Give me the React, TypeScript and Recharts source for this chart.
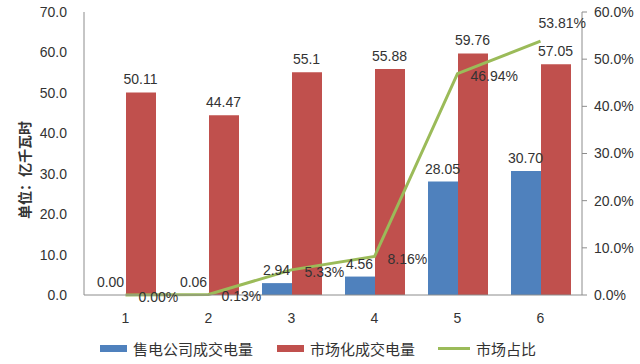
import React from 'react';
import {
  ComposedChart,
  Bar,
  Line,
  XAxis,
  YAxis,
  LabelList,
} from 'recharts';

const categories = ['1', '2', '3', '4', '5', '6'];
const companyVolume = [0.0, 0.06, 2.94, 4.56, 28.05, 30.7];
const companyLabels = ['0.00', '0.06', '2.94', '4.56', '28.05', '30.70'];
const marketVolume = [50.11, 44.47, 55.1, 55.88, 59.76, 57.05];
const marketLabels = ['50.11', '44.47', '55.1', '55.88', '59.76', '57.05'];
const marketShare = [0.0, 0.13, 5.33, 8.16, 46.94, 53.81];
const leftTicks = [0, 10, 20, 30, 40, 50, 60, 70];
const rightTicks = [0, 10, 20, 30, 40, 50, 60];

const BLUE = '#4F81BD';
const RED = '#C0504D';
const GREEN = '#9BBB59';
const TEXT = '#333333';
const AXIS = '#8c8c8c';
const FONT = '"Liberation Sans", "Noto Sans CJK SC", sans-serif';
const FS = 14;
const BAR = 30;

const data = categories.map((c, i) => ({
  name: c,
  company: companyVolume[i],
  market: marketVolume[i],
  share: marketShare[i],
}));

// value label above a bar; dx shifts from the category centre to the bar centre
// (drawn from a hidden line so zero-height bars still get their label)
const barLabel = (labels: string[], dx: number) => (props: any) => {
  const { x, y, index } = props;
  return (
    <text
      x={x + dx}
      y={y - 8}
      textAnchor="middle"
      fontSize={FS}
      fill={TEXT}
      fontFamily={FONT}
    >
      {labels[index]}
    </text>
  );
};

const shareLabel = (props: any) => {
  const { x, y, index, value } = props;
  const last = index === categories.length - 1;
  return (
    <text
      x={last ? x - 2 : x + 13}
      y={last ? y - 18 : y + 2}
      dominantBaseline="central"
      fontSize={FS}
      fill={TEXT}
      fontFamily={FONT}
    >
      {`${value.toFixed(2)}%`}
    </text>
  );
};

const unitLabel = () => (
  <text
    x={25}
    y={170}
    transform="rotate(-90 25 170)"
    textAnchor="middle"
    dominantBaseline="central"
    fontSize={14}
    fontWeight="bold"
    fill={TEXT}
    fontFamily={FONT}
  >
    单位：亿千瓦时
  </text>
);

const legendItems = [
  { name: '售电公司成交电量', color: BLUE, type: 'bar', left: 100 },
  { name: '市场化成交电量', color: RED, type: 'bar', left: 277 },
  { name: '市场占比', color: GREEN, type: 'line', left: 438 },
];

export default function App() {
  return (
    <div style={{ position: 'absolute', left: 0, top: 0, width: 640, height: 364, background: '#fff' }}>
      <ComposedChart
        width={640}
        height={364}
        data={data}
        margin={{ top: 12, right: 0, bottom: 0, left: 0 }}
        barGap={0}
        barSize={BAR}
      >
        <XAxis
          dataKey="name"
          height={69}
          tickLine={false}
          stroke={AXIS}
          tickMargin={12}
          tick={{ fill: TEXT, fontSize: FS, fontFamily: FONT }}
        />
        <YAxis
          yAxisId="left"
          width={84}
          domain={[0, 70]}
          ticks={leftTicks}
          tickFormatter={(v: number) => v.toFixed(1)}
          stroke={AXIS}
          tickLine={false}
          tickSize={0}
          tickMargin={17}
          tick={{ fill: TEXT, fontSize: FS, fontFamily: FONT }}
          label={unitLabel}
        />
        <YAxis
          yAxisId="right"
          orientation="right"
          width={58}
          domain={[0, 60]}
          ticks={rightTicks}
          tickFormatter={(v: number) => `${v.toFixed(1)}%`}
          stroke={AXIS}
          tickSize={5}
          tickMargin={7}
          tick={{ fill: TEXT, fontSize: FS, fontFamily: FONT }}
        />
        <Bar yAxisId="left" dataKey="company" fill={BLUE} isAnimationActive={false} />
        <Bar yAxisId="left" dataKey="market" fill={RED} isAnimationActive={false} />
        <Line
          yAxisId="left"
          dataKey="company"
          stroke="none"
          dot={false}
          activeDot={false}
          legendType="none"
          isAnimationActive={false}
        >
          <LabelList dataKey="company" content={barLabel(companyLabels, -BAR / 2)} />
        </Line>
        <Line
          yAxisId="left"
          dataKey="market"
          stroke="none"
          dot={false}
          activeDot={false}
          legendType="none"
          isAnimationActive={false}
        >
          <LabelList dataKey="market" content={barLabel(marketLabels, BAR / 2)} />
        </Line>
        <Line
          yAxisId="right"
          dataKey="share"
          stroke={GREEN}
          strokeWidth={3}
          dot={false}
          type="linear"
          isAnimationActive={false}
        >
          <LabelList dataKey="share" content={shareLabel} />
        </Line>
      </ComposedChart>
      {legendItems.map((item) => (
        <div
          key={item.name}
          style={{
            position: 'absolute',
            left: item.left,
            top: 338,
            height: 20,
            display: 'flex',
            alignItems: 'center',
            fontFamily: FONT,
            fontSize: 15,
            color: TEXT,
            whiteSpace: 'nowrap',
          }}
        >
          <span
            style={{
              display: 'inline-block',
              width: item.type === 'bar' ? 27 : 32,
              height: item.type === 'bar' ? 7 : 3,
              background: item.color,
              marginRight: 6,
            }}
          />
          {item.name}
        </div>
      ))}
    </div>
  );
}
